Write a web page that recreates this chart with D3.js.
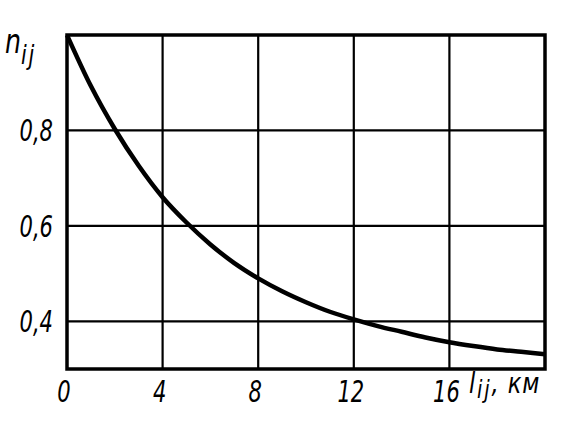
<!DOCTYPE html>
<html><head><meta charset="utf-8">
<script src="https://cdn.jsdelivr.net/npm/d3@7"></script>
<style>
html,body{margin:0;padding:0;background:#fff;}
svg{display:block;}
text{font-family:"Liberation Sans Narrow","DejaVu Sans Condensed","DejaVu Sans",sans-serif;font-style:italic;fill:#000;}
</style></head>
<body>
<svg id="chart" width="562" height="424"></svg>
<script>
// distance l_ij, km
const distances = [0,1,2,3,4,5,6,7,8,9,10,11,12,13,14,15,16,17,18,19,20];
// coefficient n_ij
const coefficients = [1.0,0.893,0.803,0.726,0.660,0.607,0.561,0.522,0.490,0.463,0.440,0.420,0.404,0.390,0.378,0.366,0.356,0.348,0.341,0.336,0.331];
const xTicks = [0,4,8,12,16];
const xGrid = [4,8,12,16];
const yTicks = [0.4,0.6,0.8];
const yTickLabels = ["0,4","0,6","0,8"];

const svg = d3.select("#chart");
const x = d3.scaleLinear().domain([0,20]).range([67,545]);
const y = d3.scaleLinear().domain([0.3,1.0]).range([369,35]);
const SX = 0.78;

// grid lines
svg.append("g").selectAll("line").data(xGrid).join("line")
  .attr("x1",d=>x(d)).attr("x2",d=>x(d)).attr("y1",y(1.0)).attr("y2",y(0.3))
  .attr("stroke","#000").attr("stroke-width",2.2);
svg.append("g").selectAll("line").data(yTicks).join("line")
  .attr("x1",x(0)).attr("x2",x(20)).attr("y1",d=>y(d)).attr("y2",d=>y(d))
  .attr("stroke","#000").attr("stroke-width",2.2);

// frame
svg.append("rect").attr("x",x(0)).attr("y",y(1.0))
  .attr("width",x(20)-x(0)).attr("height",y(0.3)-y(1.0))
  .attr("fill","none").attr("stroke","#000").attr("stroke-width",3.5);

// curve
const line = d3.line().x((d,i)=>x(distances[i])).y(d=>y(d)).curve(d3.curveMonotoneX);
svg.append("path").datum(coefficients).attr("d",line)
  .attr("fill","none").attr("stroke","#000").attr("stroke-width",4.5)
  .attr("stroke-linejoin","round");

// y tick labels
svg.append("g").selectAll("text").data(yTicks).join("text")
  .attr("transform",d=>`translate(53,${y(d)+11}) scale(${SX},1)`)
  .attr("text-anchor","end").attr("font-size",30)
  .text((d,i)=>yTickLabels[i]);

// x tick labels
svg.append("g").selectAll("text").data(xTicks).join("text")
  .attr("transform",d=>`translate(${x(d)-3},402) scale(${SX},1)`)
  .attr("text-anchor","middle").attr("font-size",30)
  .text(d=>d);

// y axis title n_ij
const yt = svg.append("text").attr("transform",`translate(5,53) scale(0.85,1)`).attr("font-size",33);
yt.append("tspan").text("n");
yt.append("tspan").attr("font-size",27).attr("dy",11).attr("letter-spacing",2).text("ij");

// x axis title l_ij, км
const xt = svg.append("text").attr("transform",`translate(469,393) scale(0.9,1)`).attr("font-size",28);
xt.append("tspan").text("l");
xt.append("tspan").attr("font-size",24).attr("dx",2).attr("dy",5).attr("letter-spacing",2).text("ij");
xt.append("tspan").attr("dy",-5).attr("font-size",28).attr("letter-spacing",1).text(", км");
</script>
</body></html>
